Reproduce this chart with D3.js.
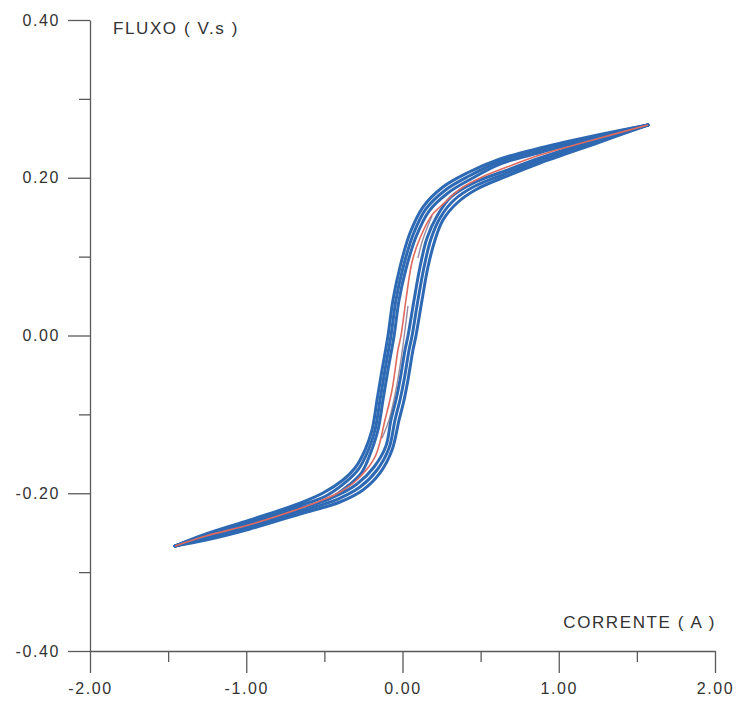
<!DOCTYPE html>
<html><head><meta charset="utf-8">
<script src="https://cdn.jsdelivr.net/npm/d3@7"></script>
<style>
body{margin:0;background:#fff;}
text{font-family:"Liberation Sans",Arial,sans-serif;}
</style>
</head><body>
<svg id="chart" width="740" height="706"></svg>
<script>
// ---- axis ticks ----
const xMajor = [-2, -1, 0, 1, 2];
const xMajorLabels = ["-2.00", "-1.00", "0.00", "1.00", "2.00"];
const xMinor = [-1.5, -0.5, 0.5, 1.5];
const yMajor = [-0.4, -0.2, 0, 0.2, 0.4];
const yMajorLabels = ["-0.40", "-0.20", "0.00", "0.20", "0.40"];
const yMinor = [-0.3, -0.1, 0.1, 0.3];
const xTitle = "CORRENTE ( A )";
const yTitle = "FLUXO ( V.s )";

// ---- data: [current (A), flux (V.s)] ----
const blueDescA = [[1.571,0.2669],[1.264,0.2548],[0.880,0.2377],[0.624,0.2238],[0.413,0.2060],[0.259,0.1883],[0.131,0.1629],[0.048,0.1299],[-0.016,0.0868],[-0.061,0.0450],[-0.093,-0.0006],[-0.131,-0.0437],[-0.163,-0.0818],[-0.195,-0.1198],[-0.240,-0.1452],[-0.304,-0.1680],[-0.381,-0.1832],[-0.509,-0.1997],[-0.656,-0.2124],[-0.976,-0.2339],[-1.258,-0.2517],[-1.456,-0.2669]];
const blueAscA = [[-1.456,-0.2669],[-1.258,-0.2593],[-0.976,-0.2453],[-0.656,-0.2263],[-0.400,-0.2111],[-0.253,-0.1959],[-0.144,-0.1743],[-0.067,-0.1452],[-0.022,-0.1071],[0.010,-0.0818],[0.035,-0.0564],[0.067,-0.0184],[0.086,-0.0006],[0.125,0.0450],[0.163,0.0868],[0.208,0.1211],[0.259,0.1464],[0.349,0.1680],[0.477,0.1857],[0.669,0.2022],[0.880,0.2187],[1.264,0.2453],[1.571,0.2669]];
const blueDescB = [[1.571,0.2669],[1.264,0.2536],[0.880,0.2352],[0.624,0.2206],[0.426,0.2022],[0.275,0.1845],[0.150,0.1604],[0.067,0.1274],[0.003,0.0856],[-0.042,0.0450],[-0.074,-0.0006],[-0.112,-0.0437],[-0.144,-0.0818],[-0.176,-0.1198],[-0.221,-0.1464],[-0.285,-0.1705],[-0.362,-0.1857],[-0.490,-0.2035],[-0.656,-0.2155],[-0.976,-0.2365],[-1.258,-0.2529],[-1.456,-0.2669]];
const blueAscB = [[-1.456,-0.2669],[-1.258,-0.2574],[-0.976,-0.2428],[-0.656,-0.2231],[-0.413,-0.2073],[-0.272,-0.1921],[-0.163,-0.1705],[-0.086,-0.1426],[-0.048,-0.1071],[-0.016,-0.0818],[0.010,-0.0564],[0.042,-0.0184],[0.061,-0.0006],[0.099,0.0450],[0.138,0.0868],[0.182,0.1223],[0.240,0.1490],[0.330,0.1718],[0.464,0.1895],[0.662,0.2054],[0.880,0.2219],[1.264,0.2479],[1.571,0.2669]];
const blueDescC = [[1.571,0.2669],[1.264,0.2517],[0.880,0.2320],[0.624,0.2174],[0.438,0.1984],[0.291,0.1807],[0.170,0.1578],[0.086,0.1249],[0.022,0.0843],[-0.022,0.0450],[-0.054,-0.0006],[-0.093,-0.0437],[-0.125,-0.0818],[-0.157,-0.1198],[-0.202,-0.1477],[-0.259,-0.1731],[-0.342,-0.1895],[-0.470,-0.2073],[-0.656,-0.2187],[-0.976,-0.2390],[-1.258,-0.2542],[-1.456,-0.2669]];
const blueAscC = [[-1.456,-0.2669],[-1.258,-0.2555],[-0.976,-0.2403],[-0.656,-0.2200],[-0.426,-0.2035],[-0.291,-0.1883],[-0.182,-0.1667],[-0.106,-0.1401],[-0.074,-0.1071],[-0.042,-0.0818],[-0.016,-0.0564],[0.016,-0.0184],[0.035,-0.0006],[0.074,0.0450],[0.112,0.0868],[0.157,0.1236],[0.221,0.1515],[0.310,0.1756],[0.451,0.1933],[0.656,0.2086],[0.880,0.2250],[1.264,0.2498],[1.571,0.2669]];
const redCurve = [[-1.456,-0.2669],[-1.258,-0.2542],[-0.976,-0.2397],[-0.656,-0.2193],[-0.528,-0.2098],[-0.400,-0.1984],[-0.285,-0.1819],[-0.176,-0.1540],[-0.112,-0.1071],[-0.067,-0.0691],[-0.029,-0.0184],[-0.010,-0.0006],[0.022,0.0450],[0.061,0.0932],[0.112,0.1236],[0.189,0.1528],[0.240,0.1629],[0.368,0.1857],[0.496,0.1997],[0.669,0.2136],[0.880,0.2288],[1.264,0.2504],[1.571,0.2669]];
const grayMinor1 = [[0.189,0.1515],[0.157,0.1363],[0.125,0.1185],[0.099,0.0983]];
const grayMinor2 = [[0.035,0.0374],[0.016,0.0070],[-0.010,-0.0311],[-0.042,-0.0691],[-0.086,-0.1071],[-0.131,-0.1299]];

const blueSeries = [blueDescA, blueAscA, blueDescB, blueAscB, blueDescC, blueAscC];

// ---- layout ----
const svg = d3.select("#chart");
const x = d3.scaleLinear().domain([-2, 2]).range([90, 715]);
const y = d3.scaleLinear().domain([-0.4, 0.4]).range([651, 20]);
const axisColor = "#5a5a5a";
const textColor = "#333333";

const line = d3.line().x(d => x(d[0])).y(d => y(d[1])).curve(d3.curveCatmullRom.alpha(0.5));

// curves
const plot = svg.append("g");
blueSeries.forEach(s => {
  plot.append("path").attr("d", line(s))
    .attr("fill", "none").attr("stroke", "#2e69b3").attr("stroke-width", 3)
    .attr("stroke-linejoin", "round").attr("stroke-linecap", "round");
});
plot.append("path").attr("d", line(redCurve))
  .attr("fill", "none").attr("stroke", "#df6a60").attr("stroke-width", 1.6);
[grayMinor1, grayMinor2].forEach(s => {
  plot.append("path").attr("d", line(s))
    .attr("fill", "none").attr("stroke", "#7d6f8a").attr("stroke-width", 1.4).attr("opacity", 0.8);
});

// axes
function styleAxis(g) {
  g.selectAll("path.domain").attr("stroke", axisColor).attr("stroke-width", 1.3);
  g.selectAll(".tick line").attr("stroke", axisColor).attr("stroke-width", 1.3);
  g.selectAll(".tick text").attr("fill", textColor).attr("font-size", 16).attr("letter-spacing", 1.6)
    .attr("font-family", '"Liberation Sans", Arial, sans-serif');
}
const xAxisG = svg.append("g").attr("transform", `translate(0,${y(-0.4)})`)
  .call(d3.axisBottom(x).tickValues(xMajor).tickFormat((d, i) => xMajorLabels[i]).tickSize(22).tickSizeOuter(0).tickPadding(10));
styleAxis(xAxisG);
const xMinorG = svg.append("g").attr("transform", `translate(0,${y(-0.4)})`)
  .call(d3.axisBottom(x).tickValues(xMinor).tickFormat("").tickSize(11).tickSizeOuter(0));
styleAxis(xMinorG);
xMinorG.select("path.domain").remove();

const yAxisG = svg.append("g").attr("transform", `translate(${x(-2)},0)`)
  .call(d3.axisLeft(y).tickValues(yMajor).tickFormat((d, i) => yMajorLabels[i]).tickSize(22).tickSizeOuter(0).tickPadding(8));
styleAxis(yAxisG);
const yMinorG = svg.append("g").attr("transform", `translate(${x(-2)},0)`)
  .call(d3.axisLeft(y).tickValues(yMinor).tickFormat("").tickSize(11).tickSizeOuter(0));
styleAxis(yMinorG);
yMinorG.select("path.domain").remove();

// titles
svg.append("text").attr("x", 113).attr("y", 34).text(yTitle)
  .attr("fill", textColor).attr("font-size", 17).attr("letter-spacing", 1.6);
svg.append("text").attr("x", 716).attr("y", 628).attr("text-anchor", "end").text(xTitle)
  .attr("fill", textColor).attr("font-size", 17).attr("letter-spacing", 1.6);
</script>
</body></html>
